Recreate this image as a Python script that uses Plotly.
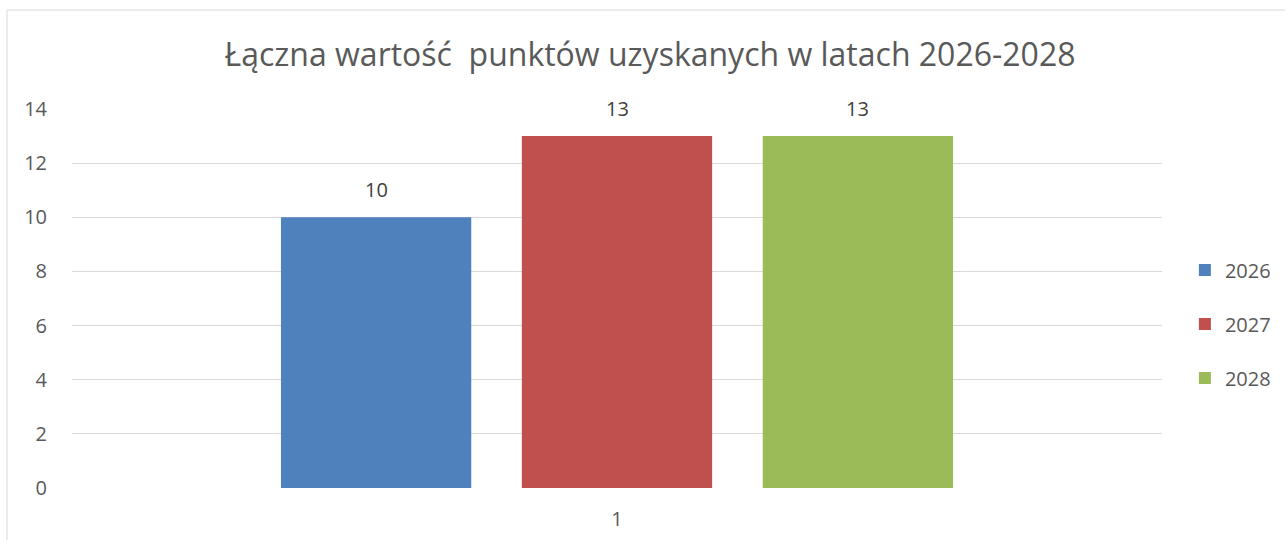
import plotly.graph_objects as go

categories = ["1"]
series_names = ["2026", "2027", "2028"]
series_values = [[10], [13], [13]]
colors = ["#4F81BD", "#C0504D", "#9BBB59"]
y_ticks = [0, 2, 4, 6, 8, 10, 12, 14]
title_text = "Łączna wartość  punktów uzyskanych w latach 2026-2028"

FONT = "Open Sans"
TXT = "#595959"
BARGAP = 0.337
BARGROUPGAP = 0.21
FS = 20

fig = go.Figure()
for name, vals, col in zip(series_names, series_values, colors):
    fig.add_trace(go.Bar(
        x=categories, y=vals, name=name, marker_color=col,
        marker_line_width=0, legendgroup=name,
    ))

# data labels above bars
n = len(series_names)
slot = (1 - BARGAP) / n
for i, vals in enumerate(series_values):
    for ci, v in enumerate(vals):
        fig.add_annotation(
            x=ci + (i - (n - 1) / 2) * slot, y=v, xref="x", yref="y",
            text=str(v), showarrow=False, yanchor="bottom", yshift=12,
            font=dict(family=FONT, size=FS, color="#404040"),
        )

fig.update_layout(
    width=1285, height=540,
    margin=dict(l=72, r=123, t=109, b=52, autoexpand=False),
    paper_bgcolor="white", plot_bgcolor="white",
    barmode="group", bargap=BARGAP, bargroupgap=BARGROUPGAP,
    title=dict(text=title_text, x=650 / 1285, xref="container", xanchor="center",
               y=1 - 55 / 540, yref="container", yanchor="middle",
               font=dict(family=FONT, size=32, color=TXT)),
    font=dict(family=FONT, size=FS, color=TXT),
    legend=dict(x=1.021, y=0.4327, xanchor="left", yanchor="middle",
                tracegroupgap=25, font=dict(family=FONT, size=FS, color=TXT),
                bgcolor="rgba(0,0,0,0)"),
    xaxis=dict(type="category", showgrid=False, showline=False, zeroline=False,
               ticks="", ticklabelstandoff=17,
               tickfont=dict(family=FONT, size=FS, color=TXT)),
    yaxis=dict(range=[0, 14], tickvals=y_ticks, showgrid=True, gridcolor="#D9D9D9",
               gridwidth=1, zeroline=False, showline=False, ticks="",
               ticklabelstandoff=24,
               tickfont=dict(family=FONT, size=FS, color=TXT)),
    showlegend=True,
)

# outer chart border (partially cropped in the reference)
fig.add_shape(type="rect", xref="paper", yref="paper",
              x0=(7 - 72) / 1090, x1=(1300 - 72) / 1090,
              y0=(488 - 560) / 379, y1=(488 - 10) / 379,
              line=dict(color="#D9D9D9", width=1), fillcolor="rgba(0,0,0,0)",
              layer="below")

fig.write_html("out.html",
               config={"displayModeBar": False},
               post_script="document.body.style.margin='0px';document.body.style.overflow='hidden';")
